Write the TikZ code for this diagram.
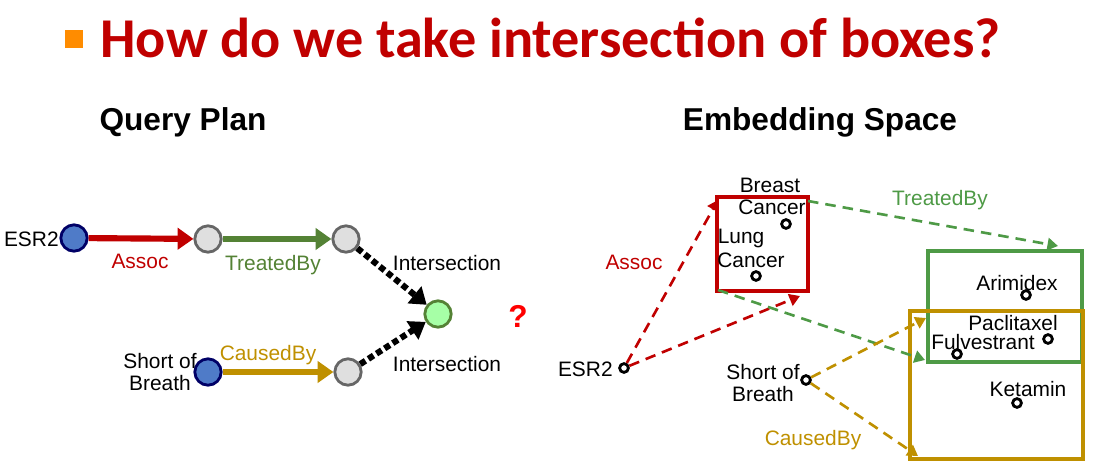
\documentclass[tikz,border=0pt]{standalone}
\usepackage{fontspec}
\setmainfont{Liberation Sans}
\newfontfamily\carlitofont{Carlito}
\usetikzlibrary{arrows.meta}
\definecolor{tred}{HTML}{C00000}
\definecolor{ared}{HTML}{C00000}
\definecolor{agreen}{HTML}{548235}
\definecolor{agold}{HTML}{BF9000}
\definecolor{bgreen}{HTML}{4E9A46}
\definecolor{nblue}{HTML}{4F7BC8}
\begin{document}
\begin{tikzpicture}[x=0.02cm,y=-0.02cm,
 lbl/.style={font=\fontsize{11.9}{13}\selectfont,inner sep=0pt,align=center},
 circ/.style={circle,draw=gray!80!black,line width=1.6pt,minimum size=15pt,inner sep=0pt},
 dot/.style={circle,draw=black,fill=white,line width=1.6pt,minimum size=5pt,inner sep=0pt},
 solidarr/.style={line width=3.5pt,-{Triangle[length=9pt,width=12pt]}},
 dotarr/.style={line width=3.5pt,dotted,-{Triangle[length=9pt,width=12pt]}},
 darr/.style={line width=1.5pt,dash pattern=on 6pt off 4pt,-{Triangle[length=6pt,width=7pt]}}]
\useasboundingbox (0,0) rectangle (1095,470);
\fill[orange!90!yellow] (65,30) rectangle (83,48);
\node[anchor=west,text=tred,font=\carlitofont\bfseries\fontsize{32}{36}\selectfont,inner sep=0pt] (title) at (100,38) {How do we take intersection of boxes?};
\node[font=\bfseries\fontsize{18}{20}\selectfont] (qp) at (183,122) {Query Plan};
\node[font=\bfseries\fontsize{18}{20}\selectfont] (es) at (820,122) {Embedding Space};
% query plan
\node[circ,fill=nblue,draw=blue!40!black] (e) at (74,238) {};
\node[lbl,anchor=east] (et) at (59,239) {ESR2};
\node[circ,fill=gray!25] (g1) at (208,239) {};
\node[circ,fill=gray!25] (g2) at (346,239) {};
\draw[solidarr,ared] (e) -- (g1);
\draw[solidarr,agreen] (g1) -- (g2);
\node[lbl,text=ared] (la) at (140,261) {Assoc};
\node[lbl,text=agreen] (lt) at (273,265) {TreatedBy};
\node[circ,fill=green!35!white,draw=agreen] (gi) at (438,314) {};
\node[circ,fill=nblue,draw=blue!40!black] (s) at (208,372) {};
\node[lbl] (st) at (160,372) {Short of\\Breath};
\node[circ,fill=gray!25] (g3) at (348,372) {};
\draw[solidarr,agold] (s) -- (g3);
\node[lbl,text=agold] (lc) at (268,355) {CausedBy};
\draw[dotarr] (g2) -- (gi);
\draw[dotarr] (g3) -- (gi);
\node[lbl] (i1) at (447,263) {Intersection};
\node[lbl] (i2) at (447,364) {Intersection};
\node[text=red,font=\bfseries\fontsize{18}{20}\selectfont] (q) at (518,316) {?};
% embedding
\draw[ared,line width=2.2pt] (717,197) rectangle (808,291);
\draw[bgreen,line width=2.2pt] (928,251) rectangle (1082,362);
\draw[agold,line width=2.2pt] (910,311) rectangle (1083,459);
\node[dot] (de) at (624,368) {};
\node[lbl,anchor=east] (det) at (613,369) {ESR2};
\node[lbl] (bc1) at (770,185) {Breast};
\node[lbl] (bc2) at (772,207) {Cancer};
\node[dot] (dbc) at (786,224) {};
\node[lbl] (lc1) at (741,238) {Lung};
\node[lbl] (lc2) at (751,260) {Cancer};
\node[dot] (dlc) at (756,276) {};
\node[lbl] (ar) at (1017,283) {Arimidex};
\node[dot] (dar) at (1026,295) {};
\node[lbl] (pa) at (1013,323) {Paclitaxel};
\node[lbl] (fu) at (983,342) {Fulvestrant};
\node[dot] (dfu) at (957,354) {};
\node[dot] (dpa) at (1048,339) {};
\node[lbl] (ke) at (1028,389) {Ketamin};
\node[dot] (dke) at (1017,403) {};
\node[lbl] (sb) at (763,383) {Short of\\Breath};
\node[dot] (dsb) at (806,380) {};
\coordinate (a1) at (718,200);
\coordinate (a2) at (800,296);
\coordinate (t1s) at (808,201);
\coordinate (t1e) at (1058,246);
\coordinate (t2s) at (718,290);
\coordinate (t2e) at (925,360);
\coordinate (c1) at (926,318);
\coordinate (c2) at (918,456);
\draw[darr,ared] (de) -- (a1);
\draw[darr,ared] (de) -- (a2);
\draw[darr,bgreen] (t1s) -- (t1e);
\draw[darr,bgreen] (t2s) -- (t2e);
\draw[darr,agold] (dsb) -- (c1);
\draw[darr,agold] (dsb) -- (c2);
\node[lbl,text=ared] (ea) at (634,262) {Assoc};
\node[lbl,text=bgreen] (et2) at (940,200) {TreatedBy};
\node[lbl,text=agold] (ec) at (813,440) {CausedBy};
\end{tikzpicture}
\end{document}
